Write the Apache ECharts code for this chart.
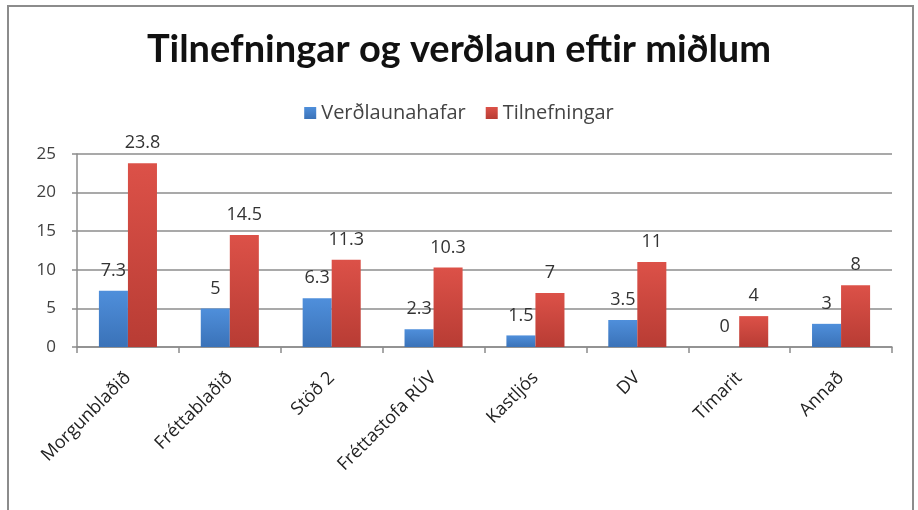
<!DOCTYPE html>
<html><head><meta charset="utf-8">
<script src="https://cdn.jsdelivr.net/npm/echarts@6/dist/echarts.min.js"></script>
<style>html,body{margin:0;padding:0;background:#fff}#c{width:918px;height:510px}</style>
</head><body><div id="c"></div>
<script>
var categories = ['Morgunblaðið','Fréttablaðið','Stöð 2','Fréttastofa RÚV','Kastljós','DV','Tímarit','Annað'];
var verdlaunahafar = [7.3, 5, 6.3, 2.3, 1.5, 3.5, 0, 3];
var tilnefningar = [23.8, 14.5, 11.3, 10.3, 7, 11, 4, 8];
var yTicks = [0, 5, 10, 15, 20, 25];

var chart = echarts.init(document.getElementById('c'));
function grad(top, bottom){
  return new echarts.graphic.LinearGradient(0,0,0,1,[{offset:0,color:top},{offset:1,color:bottom}]);
}
chart.setOption({
  animation:false,
  graphic:[{type:'rect',shape:{x:8,y:6,width:905,height:520},style:{fill:'none',stroke:'#8c8c8c',lineWidth:2},silent:true}],
  title:{text:'Tilnefningar og verðlaun eftir miðlum',left:'center',top:26,
    textStyle:{fontFamily:'Lato',fontWeight:'bold',fontSize:38,color:'#111'}},
  legend:{top:98,left:'center',itemWidth:12,itemHeight:12,itemGap:20,icon:'rect',
    textStyle:{fontFamily:'Open Sans',fontSize:20,color:'#444'},
    data:['Verðlaunahafar','Tilnefningar']},
  grid:{left:77,right:26,top:154,bottom:163},
  xAxis:{type:'category',data:categories,
    axisLine:{lineStyle:{color:'#8c8c8c',width:1.5}},
    axisTick:{show:true,length:6,lineStyle:{color:'#8c8c8c',width:1.5}},
    axisLabel:{rotate:45,fontFamily:'Open Sans',fontSize:18,color:'#222',margin:28,interval:0}},
  yAxis:{type:'value',min:0,max:25,interval:5,
    axisLine:{show:true,lineStyle:{color:'#8c8c8c',width:1.5}},
    axisTick:{show:true,length:5,lineStyle:{color:'#8c8c8c',width:1.5}},
    splitLine:{lineStyle:{color:'#8c8c8c',width:1.5}},
    axisLabel:{fontFamily:'Open Sans',fontSize:17,color:'#404040',margin:21}},
  series:[
    {name:'Verðlaunahafar',type:'bar',data:verdlaunahafar,barGap:'0%',barCategoryGap:'43%',
     itemStyle:{color:grad('#4f8fdb','#3a72b8')},
     label:{show:true,position:'top',distance:11,fontFamily:'Open Sans',fontSize:18,color:'#333'}},
    {name:'Tilnefningar',type:'bar',data:tilnefningar,barGap:'0%',barCategoryGap:'43%',
     itemStyle:{color:grad('#dc5148','#b83c34')},
     label:{show:true,position:'top',distance:11,fontFamily:'Open Sans',fontSize:18,color:'#333'}}
  ]
});
</script></body></html>
